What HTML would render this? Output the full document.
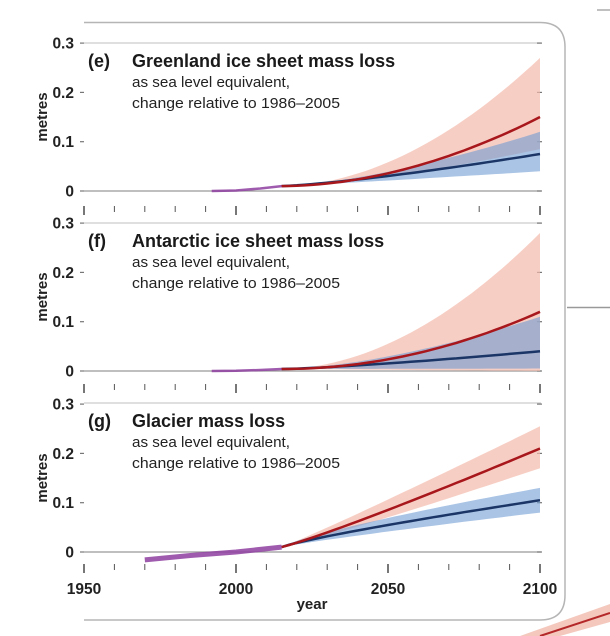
<!DOCTYPE html>
<html><head><meta charset="utf-8"><style>
html,body{margin:0;padding:0;background:#fff;width:610px;height:636px;overflow:hidden}
svg{display:block}
text{font-family:"Liberation Sans Narrow","Liberation Sans",sans-serif}
</style></head><body>
<svg id="s" width="610" height="636" viewBox="0 0 610 636" xmlns="http://www.w3.org/2000/svg">
<path d="M84 22.5 H540 Q565 22.5 565 47 V595 Q565 620 540 620 H84" fill="none" stroke="#b5b5b5" stroke-width="1.5"/>
<line x1="597" y1="10" x2="610" y2="10" stroke="#aaa" stroke-width="1.5"/>
<line x1="567" y1="307.5" x2="610" y2="307.5" stroke="#999" stroke-width="1.5"/>
<path d="M520 636 L610 604 L610 622 L560 636 Z" fill="#f4c8bd"/>
<path d="M540 636 L610 613" stroke="#b5282a" stroke-width="2" fill="none"/>
<g id="g"></g>
<text x="312" y="609" font-size="15" font-weight="bold" text-anchor="middle" fill="#222">year</text>
</svg>
<script>
var X=function(y){return 84+(y-1950)*3.04;};
var panels=[
 {z:191,top:43,tick:208,lab:"(e)",title:"Greenland ice sheet mass loss",
  obs:[[1992,0],[2000,0.001],[2008,0.005],[2015,0.01]],obsW:2.5,v0:0.01,
  red:[0.15,1.9],redU:[0.27,1.9],redL:[0.085,1.5],blue:[0.075,1.3],blueU:[0.12,1.5],blueL:[0.04,1.1]},
 {z:371,top:223,tick:386,lab:"(f)",title:"Antarctic ice sheet mass loss",
  obs:[[1992,0],[2000,0.0005],[2008,0.002],[2015,0.004]],obsW:2.5,v0:0.004,
  red:[0.12,2.0],redU:[0.28,1.9],redL:[0.0,1.0],blue:[0.04,1.3],blueU:[0.11,1.6],blueL:[0.005,1.0]},
 {z:552,top:403,tick:566,lab:"(g)",title:"Glacier mass loss",
  obs:[[1970,-0.016],[1985,-0.007],[2000,0.0],[2015,0.01]],obsW:5,v0:0.01,
  red:[0.21,1.1],redU:[0.255,1.05],redL:[0.17,1.1],blue:[0.105,0.85],blueU:[0.13,0.8],blueL:[0.08,0.9]}
];
var h="";
function Y(p,v){return p.z-v*493;}
function curve(p,a){var s=[];for(var y=2015;y<=2100;y+=2.5){var t=(y-2015)/85;s.push([X(y),Y(p,p.v0+(a[0]-p.v0)*Math.pow(t,a[1]))]);}return s;}
function pl(s){return s.map(function(q,i){return (i?"L":"M")+q[0].toFixed(1)+" "+q[1].toFixed(1);}).join(" ");}
function band(u,l){return pl(u)+" "+l.slice().reverse().map(function(q){return "L"+q[0].toFixed(1)+" "+q[1].toFixed(1);}).join(" ")+"Z";}
panels.forEach(function(p){
 h+='<line x1="84" y1="'+p.top+'" x2="541" y2="'+p.top+'" stroke="#ccc" stroke-width="1.2"/>';
 h+='<line x1="84" y1="'+p.z+'" x2="541" y2="'+p.z+'" stroke="#999" stroke-width="1.3"/>';
 for(var k=0;k<4;k++){var yy=Y(p,k*0.1);
  h+='<line x1="80" y1="'+yy+'" x2="84" y2="'+yy+'" stroke="#777" stroke-width="1.2"/>';
  h+='<line x1="537" y1="'+yy+'" x2="542" y2="'+yy+'" stroke="#777" stroke-width="1.2"/>';
  h+='<text x="74" y="'+(yy+5.5)+'" font-size="15.5" font-weight="bold" text-anchor="end" fill="#222">'+(k?("0."+k):"0")+'</text>';}
 h+='<text transform="translate(47,'+(p.z-74)+') rotate(-90)" font-size="15" font-weight="bold" text-anchor="middle" fill="#222">metres</text>';
 for(var yr=1950;yr<=2100;yr+=10){var maj=(yr%50==0);
  h+='<line x1="'+X(yr)+'" y1="'+(p.tick-2)+'" x2="'+X(yr)+'" y2="'+(p.tick+(maj?7:4))+'" stroke="#555" stroke-width="'+(maj?1.6:1)+'"/>';}
 var rU=curve(p,p.redU),rL=curve(p,p.redL),bU=curve(p,p.blueU),bL=curve(p,p.blueL);
 h+='<path d="'+band(rU,rL)+'" fill="#f3b9ab" fill-opacity="0.7"/>';
 h+='<path d="'+band(bU,bL)+'" fill="#6f9dd3" fill-opacity="0.6"/>';
 h+='<path d="'+pl(curve(p,p.blue))+'" fill="none" stroke="#1b3566" stroke-width="2.5"/>';
 h+='<path d="'+pl(curve(p,p.red))+'" fill="none" stroke="#a8171c" stroke-width="2.5"/>';
 h+='<path d="'+pl(p.obs.map(function(q){return [X(q[0]),Y(p,q[1])];}))+'" fill="none" stroke="#8e3ea0" stroke-width="'+p.obsW+'" stroke-opacity="0.85"/>';
 var ty=p.top+24;
 h+='<text x="88" y="'+ty+'" font-size="18" font-weight="bold" fill="#1a1a1a">'+p.lab+'</text>';
 h+='<text x="132" y="'+ty+'" font-size="18" font-weight="bold" fill="#1a1a1a">'+p.title+'</text>';
 h+='<text x="132" y="'+(ty+20)+'" font-size="15" fill="#222" textLength="158" lengthAdjust="spacingAndGlyphs">as sea level equivalent,</text>';
 h+='<text x="132" y="'+(ty+41)+'" font-size="15" fill="#222" textLength="208" lengthAdjust="spacingAndGlyphs">change relative to 1986–2005</text>';
});
[1950,2000,2050,2100].forEach(function(yr){h+='<text x="'+X(yr)+'" y="594" font-size="15.5" font-weight="bold" text-anchor="middle" fill="#222">'+yr+'</text>';});
document.getElementById("g").innerHTML=h;
</script>
</body></html>
